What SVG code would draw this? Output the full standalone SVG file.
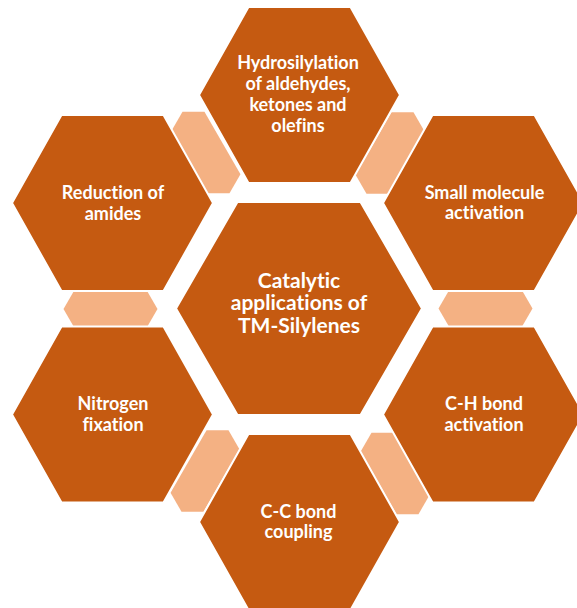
<svg xmlns="http://www.w3.org/2000/svg" xmlns:xlink="http://www.w3.org/1999/xlink" width="577" height="608" viewBox="0 0 577 608">
  <style>
    .hex { fill: #C55A11; stroke: #FFFFFF; stroke-width: 2; }
    .link { fill: #F4B183; }
    .lbl { fill: #FFFFFF; font-family: Lato, "Open Sans", "Liberation Sans", sans-serif; font-weight: bold; font-size: 18px; text-anchor: middle; font-variant-ligatures: none; }
    .big { font-size: 21px; }
  </style>
  <defs>
    <polygon id="hexOuter" points="-100.5,0 -51,-88 51,-88 100.5,0 51,88 -51,88"/>
    <polygon id="hexCenter" points="-123,0 -61.5,-106.5 61.5,-106.5 123,0 61.5,106.5 -61.5,106.5"/>
    <polygon id="linkShape" points="-47,0 -36,-19 36,-19 47,0 36,19 -36,19"/>
  </defs>
  <rect width="577" height="608" fill="#FFFFFF"/>

  <g id="connectors">
    <use xlink:href="#linkShape" class="link" transform="translate(206,152.5) rotate(60)"/>
    <use xlink:href="#linkShape" class="link" transform="translate(390,153) rotate(-60)"/>
    <use xlink:href="#linkShape" class="link" transform="translate(110.5,309)"/>
    <use xlink:href="#linkShape" class="link" transform="translate(485.5,308.5)"/>
    <use xlink:href="#linkShape" class="link" transform="translate(205,471) rotate(-60)"/>
    <use xlink:href="#linkShape" class="link" transform="translate(395,473.5) rotate(60)"/>
  </g>

  <g id="node-hydrosilylation">
    <use xlink:href="#hexOuter" class="hex" transform="translate(299.5,95)"/>
    <text class="lbl" x="298" y="69">Hydrosilylation</text>
    <text class="lbl" x="298" y="90">of aldehydes,</text>
    <text class="lbl" x="298" y="111">ketones and</text>
    <text class="lbl" x="298" y="132">olefins</text>
  </g>

  <g id="node-reduction">
    <use xlink:href="#hexOuter" class="hex" transform="translate(112.5,203)"/>
    <text class="lbl" x="113" y="198.5">Reduction of</text>
    <text class="lbl" x="113" y="219.5">amides</text>
  </g>

  <g id="node-small-molecule">
    <use xlink:href="#hexOuter" class="hex" transform="translate(483.5,203)"/>
    <text class="lbl" x="484.5" y="198.5">Small molecule</text>
    <text class="lbl" x="484.5" y="219">activation</text>
  </g>

  <g id="node-center">
    <use xlink:href="#hexCenter" class="hex" transform="translate(299,308.5)"/>
    <text class="lbl big" x="299" y="287.5">Catalytic</text>
    <text class="lbl big" x="299" y="310">applications of</text>
    <text class="lbl big" x="299" y="333">TM-Silylenes</text>
  </g>

  <g id="node-nitrogen">
    <use xlink:href="#hexOuter" class="hex" transform="translate(112.5,414.5)"/>
    <text class="lbl" x="113" y="410">Nitrogen</text>
    <text class="lbl" x="113" y="431">fixation</text>
  </g>

  <g id="node-ch-bond">
    <use xlink:href="#hexOuter" class="hex" transform="translate(483.5,414.5)"/>
    <text class="lbl" x="484" y="410">C-H bond</text>
    <text class="lbl" x="484" y="431">activation</text>
  </g>

  <g id="node-cc-bond">
    <use xlink:href="#hexOuter" class="hex" transform="translate(299.5,522)"/>
    <text class="lbl" x="298.5" y="517.5">C-C bond</text>
    <text class="lbl" x="298.5" y="538">coupling</text>
  </g>
</svg>
